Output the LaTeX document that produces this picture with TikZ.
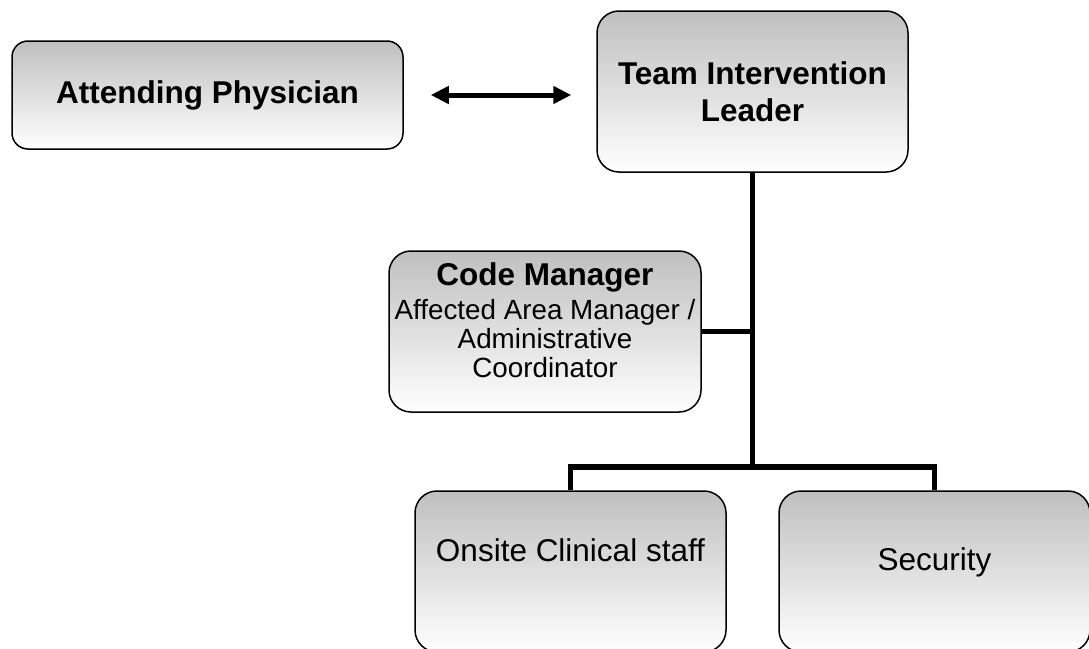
\documentclass[tikz,border=0pt]{standalone}
\usepackage{fontspec}
\setmainfont{Liberation Sans}
\usetikzlibrary{arrows.meta}
\begin{document}
\begin{tikzpicture}[x=1pt,y=-1pt,
  box/.style={draw=black, line width=1.5pt, top color=black!25, bottom color=white,
              rounded corners=#1, inner sep=0pt, align=center},
  box/.default=22pt,
  link/.style={line width=5.5pt, line join=miter, draw=black},
  twoway/.style={line width=5pt, draw=black,
                 {Triangle[length=18pt,width=17pt]}-{Triangle[length=18pt,width=17pt]}},
  bigbold/.style={font=\fontsize{31.5}{37}\selectfont\bfseries, align=center, inner sep=0pt},
  bigplain/.style={font=\fontsize{31.5}{37}\selectfont, align=center, inner sep=0pt},
  cmtext/.style={font=\fontsize{27.8}{29}\selectfont, align=center, inner sep=0pt}]

  \clip (0,0) rectangle (1089,648);
  \useasboundingbox (0,0) rectangle (1089,648);
  \fill[white] (0,0) rectangle (1089,648);

  % boxes
  \node[box=16pt, minimum width=391pt, minimum height=108pt, bigbold] (att) at (207.5,95)
       {Attending Physician};
  \node[box, minimum width=311pt, minimum height=161pt, bigbold] (til) at (752.5,91.5)
       {Team Intervention\\Leader};
  \node[box, minimum width=312pt, minimum height=161pt] (cm) at (545,331.5) {};
  \node[box, minimum width=311pt, minimum height=161pt] (on) at (570.5,571.5) {};
  \node[box, minimum width=311pt, minimum height=161pt] (sec) at (934.5,571.5) {};

  % box texts
  \node[cmtext] (cmt) at (545,320)
       {{\fontsize{31.5}{29}\selectfont\bfseries Code Manager}\\[5pt]Affected Area Manager /\\Administrative\\Coordinator};
  \node[bigplain] (ont) at (570.5,550) {Onsite Clinical staff};
  \node[bigplain] (sect) at (934.5,562) {Security};

  % connectors
  \coordinate (bus) at (til.south |- 0,467);
  \draw[twoway, shorten <=27pt, shorten >=25pt] (att.east) -- (att.east -| til.west);
  \draw[link] (til.south) -- (bus);
  \draw[link] (cm.east) -- (cm.east -| til.south);
  \draw[link] (on.north) |- (bus) -| (sec.north);
\end{tikzpicture}
\end{document}
